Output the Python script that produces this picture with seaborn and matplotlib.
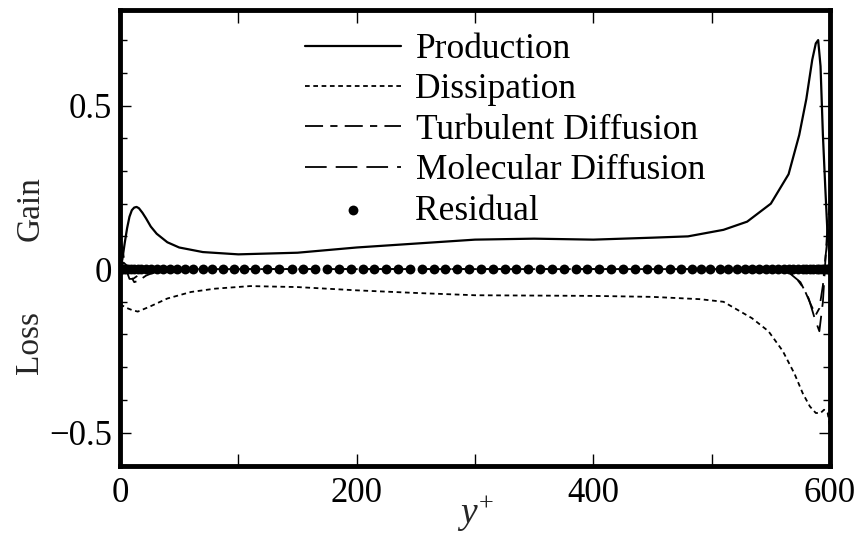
import matplotlib
matplotlib.use("Agg")
import matplotlib.pyplot as plt
import seaborn as sns
import numpy as np
import pandas as pd
from matplotlib.ticker import MultipleLocator, FixedLocator

# ---------------- data ----------------
prod_yplus = [0, 2, 4, 6, 8, 10, 12, 14, 16, 19, 22, 26, 31, 40, 50, 70, 100, 150, 200,
              250, 300, 350, 400, 450, 480, 510, 530, 550, 565, 574, 580, 585, 588,
              590, 592, 594, 596, 598, 600]
production = [0.0, 0.03, 0.08, 0.125, 0.16, 0.18, 0.188, 0.19, 0.186, 0.172, 0.155,
              0.13, 0.108, 0.082, 0.066, 0.052, 0.045, 0.05, 0.066, 0.078, 0.09, 0.093,
              0.09, 0.096, 0.10, 0.12, 0.145, 0.20, 0.29, 0.41, 0.52, 0.64, 0.69, 0.70,
              0.62, 0.41, 0.25, 0.10, 0.02]

diss_yplus = [0, 5, 10, 15, 25, 40, 60, 80, 110, 150, 200, 250, 300, 400, 450, 490,
              510, 534, 548, 560, 570, 577, 583, 588, 592, 595, 598, 600]
dissipation = [-0.107, -0.118, -0.125, -0.13, -0.115, -0.09, -0.07, -0.06, -0.052,
               -0.055, -0.065, -0.073, -0.08, -0.082, -0.085, -0.092, -0.10, -0.15,
               -0.19, -0.25, -0.32, -0.38, -0.42, -0.44, -0.44, -0.43, -0.44, -0.48]

td_yplus = [0, 3, 6, 9, 12, 16, 22, 30, 45, 100, 300, 500, 540, 560, 570, 578, 584,
            588, 591, 594, 596, 598, 600]
turb_diff = [0.0, 0.02, 0.01, -0.02, -0.04, -0.035, -0.02, -0.008, 0.0, 0.0, 0.0, 0.0,
             0.005, 0.0, -0.02, -0.06, -0.11, -0.14, -0.12, -0.05, 0.03, 0.10, 0.15]

md_yplus = [0, 2, 4, 6, 8, 11, 15, 20, 30, 100, 300, 550, 565, 575, 582, 587, 591,
            594, 596, 598, 600]
mol_diff = [0.10, 0.06, 0.02, -0.01, -0.03, -0.03, -0.02, -0.01, 0.0, 0.0, 0.0, 0.0,
            -0.01, -0.04, -0.09, -0.15, -0.19, -0.10, 0.02, 0.14, 0.20]

resid_yplus = [0, 1, 2, 3, 5, 7, 9, 12, 15, 18, 22, 26, 31, 36, 42, 48, 55, 62, 70, 78,
               87, 96, 105, 114, 124, 134, 145, 155, 165, 175, 185, 195, 205, 215, 225,
               235, 245, 255, 265, 275, 285, 295, 305, 315, 325, 335, 345, 355, 365,
               375, 385, 395, 405, 415, 425, 435, 445, 455, 465, 474, 483, 491, 499,
               507, 514, 521, 528, 534, 540, 546, 551, 556, 561, 565, 569, 573, 577,
               580, 583, 586, 589, 591, 593, 595, 597, 598, 599, 600]
residual = [0.0] * len(resid_yplus)

labels = ["Production", "Dissipation", "Turbulent Diffusion", "Molecular Diffusion",
          "Residual"]
x_ticks = [0, 200, 400, 600]
y_ticks = [-0.5, 0, 0.5]
y_tick_labels = ["\u22120.5", "0", "0.5"]

# ---------------- style ----------------
sns.set_style("ticks")
plt.rcParams["font.family"] = ["Liberation Serif", "DejaVu Serif"]
plt.rcParams["mathtext.fontset"] = "custom"
plt.rcParams["mathtext.it"] = "Liberation Serif:italic"
plt.rcParams["mathtext.rm"] = "Liberation Serif"

FS = 25
LFS = 25.5

fig = plt.figure(figsize=(8.59, 5.35), dpi=100)
ax = fig.add_axes([120 / 859, 1 - 466 / 535, 710 / 859, (466 - 10) / 535])

sns.lineplot(x=prod_yplus, y=production, ax=ax, color="black", lw=1.6,
             label=labels[0], sort=False)
l2 = sns.lineplot(x=diss_yplus, y=dissipation, ax=ax, color="black", lw=1.3,
                  label=labels[1], sort=False).lines[-1]
l2.set_dashes((2.6, 2.0))
l3 = sns.lineplot(x=td_yplus, y=turb_diff, ax=ax, color="black", lw=1.3,
                  label=labels[2], sort=False).lines[-1]
l3.set_dashes((10, 4, 4, 4))
l4 = sns.lineplot(x=md_yplus, y=mol_diff, ax=ax, color="black", lw=1.3,
                  label=labels[3], sort=False).lines[-1]
l4.set_dashes((12, 5))
sns.scatterplot(x=resid_yplus, y=residual, ax=ax, color="black", s=50,
                edgecolor="black", linewidth=0, label=labels[4], zorder=5)

ax.set_xlim(0, 600)
ax.set_ylim(-0.602, 0.792)
ax.xaxis.set_major_locator(FixedLocator(x_ticks))
ax.xaxis.set_minor_locator(MultipleLocator(100))
ax.yaxis.set_major_locator(FixedLocator(y_ticks))
ax.set_yticklabels(y_tick_labels)
ax.yaxis.set_minor_locator(MultipleLocator(0.1))
ax.tick_params(axis="both", which="both", direction="in", top=True, right=True,
               labelsize=FS, color="black", labelcolor="black", width=1.0)
ax.tick_params(axis="x", which="both", length=9, pad=8)
ax.tick_params(axis="y", which="major", length=8, pad=6)
ax.tick_params(axis="y", which="minor", length=5)
for s in ax.spines.values():
    s.set_linewidth(3.5)
    s.set_color("black")
    s.set_visible(True)

ax.set_xlabel(r"$y^{\mathrm{+}}$", fontsize=FS + 2, labelpad=-12)
ax.set_ylabel("")
fig.text(30 / 859, 1 - 209 / 535, "Gain", rotation=90, ha="center", va="center",
         fontsize=FS - 1)
fig.text(30 / 859, 1 - 342 / 535, "Loss", rotation=90, ha="center", va="center",
         fontsize=FS - 1)

leg = ax.legend(loc="upper left", bbox_to_anchor=((305 - 120) / 710, (466 - 33) / 456),
                frameon=False, fontsize=LFS, handlelength=2.7, handletextpad=0.42,
                labelspacing=0.21, borderpad=0, borderaxespad=0, markerscale=1.0)
for t in leg.get_texts():
    t.set_color("black")

fig.savefig("out.png", dpi=100)
